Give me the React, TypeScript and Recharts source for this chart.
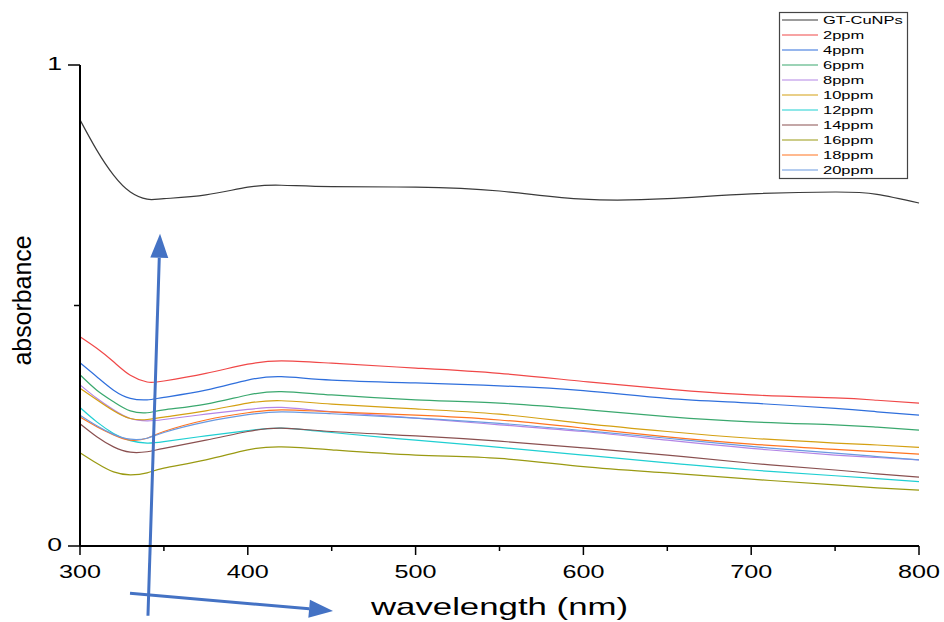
import { LineChart, Line, XAxis, YAxis, ReferenceLine } from 'recharts';

const wavelengths = [300, 310, 320, 330, 340, 350, 375, 400, 420, 450, 500, 550, 600, 650, 700, 750, 775, 800];

const gtCuNPs = [0.886, 0.823, 0.771, 0.736, 0.721, 0.722, 0.730, 0.746, 0.750, 0.747, 0.746, 0.738, 0.721, 0.722, 0.732, 0.736, 0.731, 0.713];
const ppm2 = [0.435, 0.411, 0.383, 0.355, 0.341, 0.343, 0.359, 0.378, 0.385, 0.380, 0.370, 0.359, 0.342, 0.326, 0.314, 0.308, 0.303, 0.297];
const ppm4 = [0.381, 0.352, 0.324, 0.307, 0.304, 0.309, 0.324, 0.345, 0.352, 0.345, 0.339, 0.333, 0.323, 0.307, 0.297, 0.286, 0.279, 0.272];
const ppm6 = [0.356, 0.324, 0.300, 0.281, 0.277, 0.283, 0.295, 0.314, 0.321, 0.314, 0.304, 0.297, 0.284, 0.269, 0.258, 0.252, 0.247, 0.241];
const ppm8 = [0.335, 0.307, 0.283, 0.265, 0.260, 0.263, 0.274, 0.284, 0.288, 0.279, 0.266, 0.252, 0.238, 0.220, 0.203, 0.189, 0.184, 0.179];
const ppm10 = [0.328, 0.304, 0.281, 0.265, 0.263, 0.268, 0.281, 0.297, 0.302, 0.295, 0.285, 0.274, 0.255, 0.238, 0.224, 0.214, 0.210, 0.205];
const ppm12 = [0.288, 0.258, 0.234, 0.219, 0.214, 0.217, 0.229, 0.240, 0.245, 0.236, 0.220, 0.205, 0.189, 0.173, 0.158, 0.146, 0.140, 0.134];
const ppm14 = [0.254, 0.227, 0.206, 0.195, 0.196, 0.203, 0.220, 0.238, 0.245, 0.238, 0.229, 0.218, 0.204, 0.189, 0.172, 0.158, 0.150, 0.143];
const ppm16 = [0.194, 0.172, 0.154, 0.148, 0.152, 0.162, 0.179, 0.200, 0.206, 0.200, 0.189, 0.182, 0.165, 0.152, 0.139, 0.127, 0.121, 0.116];
const ppm18 = [0.268, 0.248, 0.231, 0.220, 0.224, 0.238, 0.262, 0.277, 0.283, 0.279, 0.272, 0.262, 0.245, 0.227, 0.212, 0.201, 0.196, 0.191];
const ppm20 = [0.272, 0.250, 0.232, 0.222, 0.224, 0.236, 0.258, 0.273, 0.279, 0.275, 0.266, 0.255, 0.240, 0.224, 0.207, 0.193, 0.186, 0.179];

const xTicks = [300, 350, 400, 450, 500, 550, 600, 650, 700, 750, 800];
const yTicks = [0, 0.5, 1];

// annotation arrows, in data units [wavelength, absorbance]
const arrows = [
  { from: [340.5, -0.145], to: [347.7, 0.649] },
  { from: [329.8, -0.098], to: [450.8, -0.135] },
];

const series = [
  { key: 'gt', name: 'GT-CuNPs', color: '#3a3a3a', values: gtCuNPs },
  { key: 'p2', name: '2ppm', color: '#f04848', values: ppm2 },
  { key: 'p4', name: '4ppm', color: '#2f6fdc', values: ppm4 },
  { key: 'p6', name: '6ppm', color: '#3aa86e', values: ppm6 },
  { key: 'p8', name: '8ppm', color: '#b385e6', values: ppm8 },
  { key: 'p10', name: '10ppm', color: '#d4a012', values: ppm10 },
  { key: 'p12', name: '12ppm', color: '#1fcfd2', values: ppm12 },
  { key: 'p14', name: '14ppm', color: '#8a5050', values: ppm14 },
  { key: 'p16', name: '16ppm', color: '#9a9a12', values: ppm16 },
  { key: 'p18', name: '18ppm', color: '#ff7420', values: ppm18 },
  { key: 'p20', name: '20ppm', color: '#6a9ae0', values: ppm20 },
];

const data = wavelengths.map((w, i) => {
  const row: Record<string, number> = { w };
  series.forEach((s) => { row[s.key] = s.values[i]; });
  return row;
});

const FONT = '"Liberation Sans", Arial, sans-serif';

const XTick = (props: any) => {
  const { x, y, payload } = props;
  const major = payload.value % 100 === 0;
  return (
    <g>
      <line x1={x} x2={x} y1={y} y2={y + (major ? 9 : 5)} stroke="#000" strokeWidth={1.5} />
      {major && (
        <text transform={`translate(${x},${y + 32}) scale(1.4,1)`} textAnchor="middle"
          fontSize={18} fontFamily={FONT} fill="#000">{payload.value}</text>
      )}
    </g>
  );
};

const YTick = (props: any) => {
  const { x, y, payload } = props;
  const major = payload.value === 0 || payload.value === 1;
  return (
    <g>
      <line x1={x - (major ? 12 : 6)} x2={x} y1={y} y2={y} stroke="#000" strokeWidth={1.5} />
      {major && (
        <text transform={`translate(${x - 18},${y + 5}) scale(1.4,1)`} textAnchor="end"
          fontSize={19} fontFamily={FONT} fill="#000">{payload.value}</text>
      )}
    </g>
  );
};

const XTitle = (props: any) => {
  const { x, y, width } = props.viewBox;
  return (
    <text transform={`translate(${x + width / 2},${y + 69}) scale(1.45,1)`} textAnchor="middle"
      fontSize={24} fontFamily={FONT} fill="#000">wavelength (nm)</text>
  );
};

const YTitle = (props: any) => {
  const { y, height } = props.viewBox;
  return (
    <text transform={`translate(31,${y + height / 2 - 5}) rotate(-90)`} textAnchor="middle"
      fontSize={25} fontFamily={FONT} fill="#000" textLength={130} lengthAdjust="spacingAndGlyphs">absorbance</text>
  );
};

const ArrowShape = (p: any) => {
  const { x1, y1, x2, y2 } = p;
  const a = Math.atan2(y2 - y1, x2 - x1);
  const len = 24;
  const hw = 9;
  const bx = x2 - len * Math.cos(a);
  const by = y2 - len * Math.sin(a);
  const nx = -Math.sin(a) * hw;
  const ny = Math.cos(a) * hw;
  return (
    <g>
      <line x1={x1} y1={y1} x2={bx} y2={by} stroke="#4472c4" strokeWidth={3} />
      <polygon points={`${x2},${y2} ${bx + nx},${by + ny} ${bx - nx},${by - ny}`} fill="#4472c4" />
    </g>
  );
};

export default function App() {
  return (
    <div style={{ position: 'absolute', left: 0, top: 0, width: 944, height: 622, background: '#fff' }}>
      <LineChart width={944} height={622} data={data} margin={{ top: 65, right: 25, bottom: 26, left: 0 }}>
        <XAxis
          dataKey="w"
          type="number"
          domain={[300, 800]}
          ticks={xTicks}
          height={50}
          tickSize={0}
          tickMargin={0}
          tickLine={false}
          tick={<XTick />}
          axisLine={{ stroke: '#000', strokeWidth: 2 }}
          label={{ content: XTitle }}
        />
        <YAxis
          type="number"
          domain={[0, 1]}
          ticks={yTicks}
          width={80}
          tickSize={0}
          tickMargin={0}
          tickLine={false}
          tick={<YTick />}
          axisLine={{ stroke: '#000', strokeWidth: 2 }}
          label={{ content: YTitle }}
        />
        {series.map((s) => (
          <Line key={s.key} type="natural" dataKey={s.key} name={s.name} stroke={s.color}
            strokeWidth={1.2} dot={false} isAnimationActive={false} />
        ))}
        {arrows.map((ar, i) => (
          <ReferenceLine key={i} ifOverflow="visible"
            segment={[{ x: ar.from[0], y: ar.from[1] }, { x: ar.to[0], y: ar.to[1] }]}
            shape={ArrowShape} />
        ))}
      </LineChart>
      <svg width={944} height={200} style={{ position: 'absolute', left: 0, top: 0, pointerEvents: 'none' }}>
        <rect x={779.5} y={12.5} width={128} height={166} fill="#fff" stroke="#444" strokeWidth={1.2} />
        {series.map((s, i) => (
          <g key={s.key}>
            <line x1={782} x2={818} y1={20 + 15 * i} y2={20 + 15 * i} stroke={s.color} strokeWidth={1.2} />
            <text transform={`translate(823,${24 + 15 * i}) scale(1.5,1)`} fontSize={11}
              fontFamily={FONT} fill="#000">{s.name}</text>
          </g>
        ))}
      </svg>
    </div>
  );
}
